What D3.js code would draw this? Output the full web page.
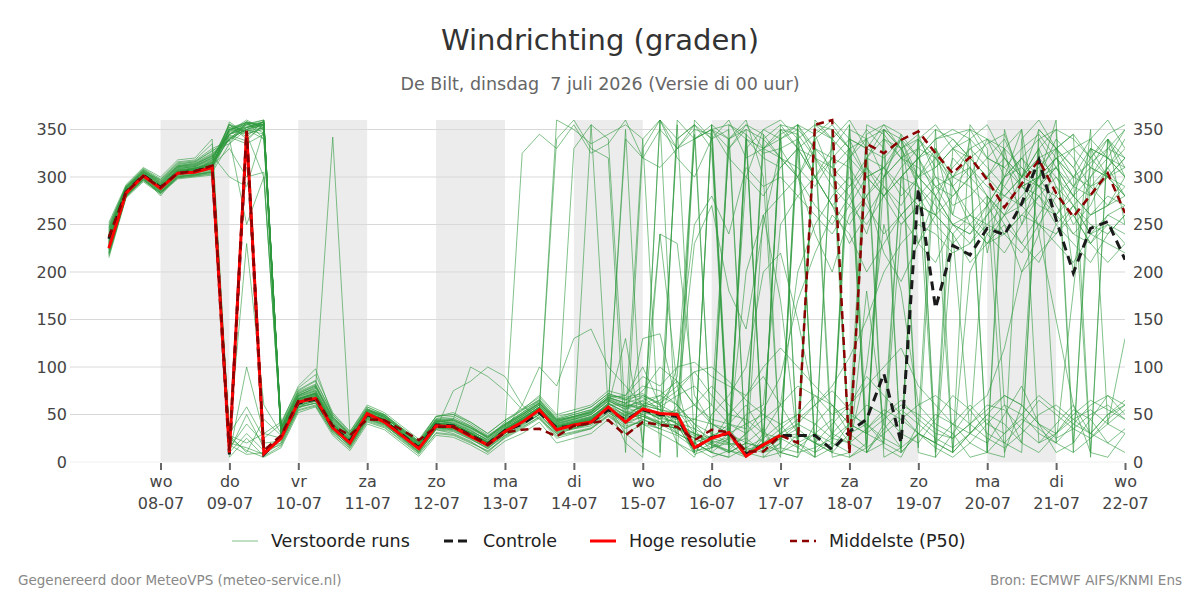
<!DOCTYPE html>
<html>
<head>
<meta charset="utf-8">
<script src="https://cdn.jsdelivr.net/npm/d3@7"></script>
<style>
  body { margin: 0; background: #fff; }
  svg { display: block; font-family: "DejaVu Sans", sans-serif; }
</style>
</head>
<body>
<div id="chart"></div>
<script>
// Tick labels (days) and weekday abbreviations
const tickDates = ['08-07', '09-07', '10-07', '11-07', '12-07', '13-07', '14-07', '15-07',
  '16-07', '17-07', '18-07', '19-07', '20-07', '21-07', '22-07'];
const tickWeekdays = ['wo', 'do', 'vr', 'za', 'zo', 'ma', 'di', 'wo', 'do', 'vr', 'za', 'zo', 'ma', 'di', 'wo'];
const yTicks = [0, 50, 100, 150, 200, 250, 300, 350];

// Control run (6-hourly from 07-07 06 UTC)
const controle = [
  235, 284, 302, 289, 304, 306, 311, 8, 345, 8,
  26, 62, 66, 36, 22, 50, 43, 29, 15, 39,
  38, 28, 19, 33, 40, 52, 36, 38, 42, 55,
  44, 55, 50, 48, 14, 26, 30, 8, 18, 28,
  28, 28, 13, 32, 45, 93, 20, 288, 162, 228,
  218, 246, 239, 272, 318, 255, 199, 246, 253, 213
];

// High resolution run (shorter range)
const hogeResolutie = [
  225, 283, 301, 288, 304, 305, 310, 10, 348, 9,
  25, 63, 67, 36, 20, 51, 42, 28, 14, 38,
  37, 27, 18, 32, 42, 55, 34, 39, 42, 58,
  42, 56, 51, 50, 15, 25, 31, 6, 18, 28
];

// Ensemble median
const middelste = [
  237, 284, 301, 289, 304, 306, 312, 12, 349, 12,
  28, 64, 68, 38, 28, 45, 44, 34, 23, 37,
  37, 28, 18, 31, 34, 35, 27, 38, 41, 44,
  28, 42, 39, 37, 23, 34, 31, 11, 11, 28,
  20, 355, 360, 9, 335, 325, 339, 348, 325, 304,
  321, 297, 268, 293, 318, 283, 258, 281, 304, 262
];

// Perturbed members
const verstoordeRuns = [
  [228,285,303,290,306,308,315,345,352,358, 30,66,72,40,22,48,44,30,16,40, 38,30,20,34,45,58,36,40,44,62, 48,60,55,52,20,28,35,12,20,30, 25,350,340,20,320,310,330,345,300,290, 310,280,260,300,330,290,250,270,310,280],
  [240,288,305,292,310,312,320,350,356,360, 35,70,78,45,28,55,48,32,18,42, 42,34,22,36,48,60,40,45,50,65, 55,70,60,90,340,350,330,355,345,320, 300,340,355,330,10,40,300,320,280,250, 240,270,300,320,290,260,280,300,320,300],
  [220,280,298,285,300,303,305,20,15,8, 20,58,62,32,18,46,40,24,10,35, 33,24,15,28,38,50,30,35,38,52, 40,48,42,45,10,20,26,8,15,25, 30,20,15,40,60,50,30,20,45,70, 55,30,20,40,65,50,35,25,45,60],
  [235,284,300,280,302,306,318,355,340,355, 28,62,66,38,22,50,42,30,15,38, 36,28,18,30,40,52,38,42,48,60, 60,58,65,80,95,70,50,45,30,60, 200,250,280,300,270,240,260,230,210,250, 260,240,220,250,280,300,270,240,260,250],
  [250,290,308,296,312,315,325,340,350,345, 38,75,85,50,30,58,50,36,22,48, 50,40,28,40,52,65,45,50,55,70, 65,80,75,60,40,30,20,340,330,350, 345,320,310,330,340,300,320,340,310,330, 320,300,330,310,290,320,300,330,320,310],
  [215,278,295,282,298,300,302,10,30,12, 18,55,60,30,14,42,36,22,8,30, 28,20,12,25,35,46,25,30,35,48, 35,45,38,40,8,15,20,5,30,25, 15,30,45,20,10,35,55,40,25,15, 30,50,40,20,10,30,55,45,20,35],
  [232,286,304,288,305,310,312,350,358,340, 32,68,74,42,26,52,46,34,20,44, 40,32,24,38,50,62,42,48,52,68, 62,75,100,85,60,45,40,30,55,90, 170,220,260,240,200,230,260,280,250,230, 250,270,240,220,250,280,260,230,250,240],
  [245,287,302,290,308,309,316,30,58,25, 40,80,98,48,28,56,46,30,18,45, 45,38,25,42,55,70,50,55,60,75, 70,90,80,100,105,90,80,70,100,120, 100,80,60,40,30,20,10,30,50,40, 20,40,60,50,30,20,40,60,70,50],
  [226,282,300,286,303,305,308,358,345,352, 26,60,64,35,20,50,42,28,14,36, 35,26,16,30,42,54,32,38,355,55, 42,55,50,45,10,355,340,350,10,20, 330,345,300,320,350,330,10,340,320,300, 330,310,290,320,300,340,320,290,310,340],
  [238,289,306,294,311,313,322,345,355,358, 36,72,80,46,30,54,50,34,20,42, 44,36,26,40,52,64,44,48,54,70, 68,72,60,50,340,350,355,345,325,330, 340,355,350,330,300,310,340,320,290,300, 310,290,280,300,320,330,310,280,300,290],
  [222,281,297,284,301,302,306,15,40,20, 22,56,70,34,16,44,38,26,12,36, 34,25,14,30,40,50,32,36,40,56, 45,50,40,35,25,15,30,40,50,30, 45,60,75,55,35,50,65,45,30,25, 40,55,70,60,40,30,50,65,55,45],
  [230,285,302,291,307,309,314,352,348,356, 30,64,70,38,20,50,44,30,16,40, 38,30,20,34,46,58,40,44,48,60, 340,320,350,330,355,340,20,15,10,25, 35,20,10,30,40,25,15,30,20,10, 200,240,260,230,210,250,270,240,230,220],
  [242,288,305,297,315,317,330,338,352,355, 34,70,76,44,26,54,48,32,18,42, 45,100,90,75,55,65,45,50,55,66, 58,65,70,60,35,10,25,200,260,280, 300,270,250,280,310,290,260,280,300,270, 280,300,320,290,270,260,290,310,300,280],
  [218,279,296,283,299,301,304,8,100,30, 25,60,68,36,18,46,40,26,10,34, 30,22,10,26,36,48,28,32,36,50, 38,42,35,28,15,5,12,30,45,60, 80,70,50,60,90,70,50,30,20,40, 60,40,30,50,70,55,40,30,50,65],
  [236,287,303,289,309,311,319,348,360,350, 33,66,73,41,24,52,45,31,17,41, 40,31,21,35,47,58,39,43,47,62, 52,58,48,55,30,22,18,25,10,15, 10,15,25,40,355,345,320,330,350,340, 320,335,345,300,290,310,330,340,320,300],
  [224,283,301,287,304,306,311,342,335,345, 28,63,68,37,21,49,43,29,15,39, 37,29,19,33,44,56,37,41,46,59, 50,55,45,100,250,280,240,310,290,300, 280,260,240,270,300,280,250,270,290,260, 250,230,260,280,300,270,240,260,280,270],
  [248,291,309,298,316,318,335,25,12,5, 15,52,58,28,12,40,34,20,6,28, 26,18,8,22,30,42,20,25,30,45, 30,40,35,50,60,80,60,40,20,10, 20,30,10,5,15,30,45,60,70,55, 40,25,15,30,50,60,45,30,20,10],
  [233,286,303,290,306,309,316,355,342,360, 31,67,72,40,23,51,45,31,17,41, 39,31,21,35,46,57,360,350,335,345, 355,340,360,330,350,345,10,20,340,355, 350,10,20,340,330,355,345,320,340,350, 340,320,310,330,345,320,300,315,330,320],
  [229,284,302,288,305,307,313,340,350,340, 29,65,70,39,22,50,44,30,16,40, 37,29,19,33,44,56,37,41,45,58, 49,60,70,85,60,40,30,20,15,30, 40,60,80,110,150,200,230,250,240,220, 230,250,240,260,250,230,210,240,250,230],
  [221,280,298,284,300,302,305,12,50,15, 20,57,62,33,17,45,39,25,11,35, 75,85,100,90,60,45,30,35,40,52, 42,40,30,20,10,350,340,355,330,320, 300,330,320,310,280,300,320,310,290,280, 300,320,310,290,300,320,330,310,300,320],
  [244,289,307,295,313,316,328,335,358,352, 37,74,82,48,29,56,49,35,21,46, 48,38,27,40,50,62,43,47,52,67, 60,55,45,30,20,10,5,15,25,340, 350,330,310,290,320,340,330,300,280,310, 330,340,320,300,310,330,345,320,300,310],
  [231,285,302,289,306,308,314,350,352,358, 30,65,71,39,22,50,44,30,16,40, 38,30,20,34,325,345,330,355,325,335, 360,320,310,330,340,350,320,300,280,310, 330,300,270,290,310,280,300,320,330,300, 290,270,300,310,290,280,300,290,270,300],
  [226,282,300,287,303,305,309,18,8,10, 24,59,64,35,19,47,41,27,13,37, 35,27,17,31,42,54,34,39,42,57, 44,130,135,60,40,20,50,70,90,60, 30,20,40,60,80,100,120,80,60,40, 30,50,70,60,40,25,35,50,60,45],
  [237,287,304,292,308,311,320,345,356,355, 34,69,75,43,25,53,47,33,19,43, 41,33,23,37,48,60,41,45,50,64, 56,62,58,70,80,60,40,35,330,340, 20,10,30,50,40,20,250,270,260,240, 260,280,250,230,260,290,270,250,240,260],
  [227,283,301,289,305,307,312,344,338,356, 27,61,66,36,20,48,42,28,14,38, 36,28,18,32,43,55,36,40,44,58, 46,52,48,40,45,60,330,350,340,320, 310,290,320,340,300,280,310,330,320,290, 250,230,240,260,280,250,230,210,240,260],
  [252,292,310,300,318,320,340,28,20,30, 42,78,92,52,32,60,52,38,24,48, 50,42,30,44,56,68,48,52,58,72, 66,70,62,75,95,100,85,65,50,40, 50,70,60,40,30,45,60,50,35,25, 40,60,55,35,20,30,45,55,40,30],
  [234,286,303,291,307,310,317,356,346,350, 31,66,72,40,23,51,45,31,17,41, 39,31,21,35,46,57,38,42,46,61, 53,48,40,35,30,25,40,60,30,10, 5,360,340,320,300,310,280,300,320,340, 320,300,280,270,300,320,290,280,310,330],
  [239,288,305,293,310,312,321,347,353,357, 35,71,77,342,30,53,47,33,19,43, 43,35,25,38,49,61,42,46,51,66, 58,50,42,38,25,18,12,8,20,35, 50,40,25,20,35,55,45,30,15,5, 20,10,30,45,35,20,10,25,40,55],
  [241,289,306,294,311,314,324,339,357,346, 36,70,79,45,27,54,48,34,20,44, 44,36,26,39,51,63,44,48,53,68, 62,68,55,40,30,20,10,340,320,310, 330,320,290,270,250,280,300,290,270,250, 240,260,280,300,320,300,280,260,270,290],
  [219,279,297,283,299,301,303,5,25,6, 17,54,59,31,15,43,37,23,9,31, 29,21,11,27,37,47,27,31,35,49, 36,44,40,38,12,15,25,50,60,250, 280,300,270,250,280,310,290,270,260,280, 300,280,260,270,290,310,280,260,270,280],
  [230,284,300,287,304,306,312,330,300,305, 30,64,70,38,21,49,43,29,15,39, 37,29,19,33,44,56,37,41,45,58, 350,10,360,5,345,20,355,340,15,350, 10,340,20,355,30,300,345,15,330,260, 340,220,300,350,240,330,200,310,340,250],
  [225,281,299,285,302,304,307,30,230,60, 30,66,72,40,22,50,44,30,16,40, 40,30,20,34,45,57,38,42,46,60, 130,20,240,80,10,355,30,5,260,170, 20,5,350,10,180,40,15,350,5,240, 30,280,10,60,330,20,180,350,40,130],
  [234,286,302,289,306,308,313,340,250,300, 33,67,73,41,24,52,45,31,17,41, 38,30,20,34,45,57,38,330,355,340, 45,340,10,355,20,10,340,360,300,15, 340,300,320,5,20,350,330,290,10,300, 320,10,350,290,300,360,20,300,330,350],
  [223,282,300,286,303,304,309,350,355,360, 28,63,67,36,20,48,42,28,14,38, 36,28,18,32,43,55,36,40,44,58, 20,5,360,340,355,15,340,10,20,350, 330,20,10,350,340,15,5,40,350,10, 355,330,60,20,340,350,10,330,320,350],
  [246,290,307,295,312,314,322,345,350,358, 36,72,80,46,28,55,48,34,20,44, 44,36,26,39,50,62,43,47,52,68, 70,100,60,20,5,50,70,100,200,220, 150,60,30,20,100,250,180,60,40,30, 55,70,120,200,240,150,60,30,50,60],
  [217,280,297,283,300,302,305,335,350,356, 26,60,64,35,19,47,41,27,13,36, 34,26,16,30,41,53,34,38,42,56, 48,54,46,42,35,25,20,345,5,10, 30,355,340,360,330,5,15,340,355,330, 310,10,5,340,360,330,300,5,340,300],
  [231,285,301,288,305,307,312,355,348,352, 31,66,72,40,23,51,45,31,17,41, 39,31,21,35,46,57,340,360,330,320, 10,330,360,320,300,340,360,320,330,345, 355,330,5,10,320,350,340,290,260,320, 300,340,330,250,300,310,280,330,300,320],
  [243,289,306,293,311,313,323,300,290,350, 40,76,86,50,32,58,50,36,22,48, 52,42,30,44,54,66,46,52,58,72, 66,60,50,40,30,18,10,20,35,5, 355,320,300,280,240,300,340,230,280,10, 30,20,50,80,40,10,20,45,70,60],
  [228,283,301,287,304,306,311,348,358,354, 29,64,69,38,21,49,43,29,15,39, 37,29,19,33,44,56,37,41,45,58, 40,60,55,30,360,340,350,5,25,40, 15,5,350,330,10,20,300,320,340,345, 350,320,340,300,330,350,340,320,345,355],
  [236,286,303,291,307,309,315,345,352,358, 32,67,72,40,23,51,45,31,17,41, 39,31,21,35,46,58,39,43,47,62, 52,45,35,60,230,270,180,140,250,330, 300,240,200,260,280,220,190,230,260,240, 210,230,250,200,220,240,260,230,210,230],
  [227,283,300,286,303,305,310,28,10,45, 28,62,66,36,20,48,42,28,14,38, 36,28,18,32,43,55,36,40,44,58, 30,15,5,360,340,355,15,30,345,10, 5,40,60,30,15,350,330,10,5,30, 5,10,330,350,20,40,60,10,5,30],
  [239,288,305,292,309,311,318,340,355,350, 34,69,75,43,25,53,47,33,19,43, 41,33,23,37,48,60,41,45,50,64, 58,64,55,50,45,40,35,300,350,360, 340,300,330,355,10,340,320,300,330,290, 260,250,270,290,280,260,240,230,260,270],
  [232,286,303,290,306,308,314,350,345,300, 31,66,71,40,22,50,44,30,16,40, 38,30,20,34,60,100,80,130,140,100, 80,60,40,30,20,10,5,330,350,340, 355,5,15,320,340,350,10,30,20,330, 340,355,320,300,350,330,310,340,360,330],
  [224,282,300,286,303,305,310,352,357,355, 28,63,67,36,20,48,42,28,14,38, 36,28,18,32,43,55,36,40,44,58, 45,50,240,230,70,40,30,10,5,20, 355,345,360,340,330,320,340,300,310,330, 350,340,300,320,340,310,290,320,340,310],
  [247,290,308,297,314,316,327,342,350,355, 37,73,81,47,29,56,49,35,21,45, 46,37,27,39,50,62,44,48,53,68, 62,55,48,340,355,330,10,20,15,25, 40,30,20,10,345,355,330,340,20,10, 30,45,20,10,350,330,345,10,340,320],
  [220,280,298,284,301,303,306,345,358,352, 24,58,62,33,17,45,39,25,11,34, 32,24,14,28,39,50,31,36,40,54, 42,48,40,35,28,20,12,5,20,355, 330,300,270,230,260,290,270,300,280,250, 230,260,290,270,250,240,270,290,300,280]
];

const width = 1200;
const height = 600;
const margin = { top: 120, right: 75, bottom: 138, left: 70 };
const plotW = width - margin.left - margin.right;
const plotH = height - margin.top - margin.bottom;

const HOUR = 3600 * 1000;
const runStart = Date.UTC(2026, 6, 7, 6);
const timeAt = i => new Date(runStart + i * 6 * HOUR);

const x = d3.scaleUtc()
  .domain([new Date(Date.UTC(2026, 6, 6, 16, 28)), new Date(Date.UTC(2026, 6, 22, 0))])
  .range([margin.left, margin.left + plotW]);

const y = d3.scaleLinear()
  .domain([0, 360])
  .range([margin.top + plotH, margin.top]);

const tickTimes = tickDates.map(s => {
  const [dd, mm] = s.split('-').map(Number);
  return new Date(Date.UTC(2026, mm - 1, dd));
});

const svg = d3.select('#chart')
  .append('svg')
  .attr('width', width)
  .attr('height', height);

svg.append('defs').append('clipPath')
  .attr('id', 'plot-clip')
  .append('rect')
  .attr('x', margin.left)
  .attr('y', margin.top - 2)
  .attr('width', plotW)
  .attr('height', plotH + 4);

// Shaded alternate days
svg.append('g')
  .selectAll('rect')
  .data(tickTimes.filter((d, i) => i % 2 === 0 && i < tickTimes.length - 1))
  .enter()
  .append('rect')
  .attr('x', d => x(d))
  .attr('y', margin.top)
  .attr('width', d => x(new Date(+d + 24 * HOUR)) - x(d))
  .attr('height', plotH)
  .attr('fill', '#ececec');

// Grid lines
svg.append('g')
  .selectAll('line')
  .data(yTicks)
  .enter()
  .append('line')
  .attr('x1', margin.left)
  .attr('x2', margin.left + plotW)
  .attr('y1', d => y(d))
  .attr('y2', d => y(d))
  .attr('stroke', d => d === 0 ? '#f0f0f0' : '#d9d9d9')
  .attr('stroke-width', 1);

// Left and right axes (labels only)
const leftAxis = svg.append('g')
  .attr('transform', `translate(${margin.left},0)`)
  .call(d3.axisLeft(y).tickValues(yTicks).tickSize(0).tickPadding(3));
const rightAxis = svg.append('g')
  .attr('transform', `translate(${margin.left + plotW},0)`)
  .call(d3.axisRight(y).tickValues(yTicks).tickSize(0).tickPadding(8));
[leftAxis, rightAxis].forEach(a => {
  a.select('.domain').remove();
  a.selectAll('text')
    .attr('font-size', 16)
    .attr('font-family', '"DejaVu Sans", sans-serif')
    .attr('fill', '#444');
});

// Bottom axis with two-line labels
const xAxis = svg.append('g')
  .attr('transform', `translate(0,${margin.top + plotH})`)
  .call(d3.axisBottom(x).tickValues(tickTimes).tickSize(8).tickFormat(''));
xAxis.select('.domain').remove();
xAxis.selectAll('.tick line')
  .attr('stroke', '#666')
  .attr('stroke-width', 2)
  .attr('y1', 1);
xAxis.selectAll('.tick').each(function(d, i) {
  const t = d3.select(this).append('text')
    .attr('fill', '#444')
    .attr('font-size', 16)
    .attr('font-family', '"DejaVu Sans", sans-serif')
    .attr('text-anchor', 'middle');
  t.append('tspan').attr('x', 0).attr('y', 25).text(tickWeekdays[i]);
  t.append('tspan').attr('x', 0).attr('y', 47).text(tickDates[i]);
});

const line = d3.line()
  .x((d, i) => x(timeAt(i)))
  .y(d => y(d));

const plot = svg.append('g').attr('clip-path', 'url(#plot-clip)');

// Perturbed runs
plot.append('g')
  .selectAll('path')
  .data(verstoordeRuns)
  .enter()
  .append('path')
  .attr('d', line)
  .attr('fill', 'none')
  .attr('stroke', '#2e9a3e')
  .attr('stroke-opacity', 0.6)
  .attr('stroke-width', 1);

plot.append('path')
  .datum(controle)
  .attr('d', line)
  .attr('fill', 'none')
  .attr('stroke', '#1a1a1a')
  .attr('stroke-width', 3)
  .attr('stroke-dasharray', '9,6');

plot.append('path')
  .datum(hogeResolutie)
  .attr('d', line)
  .attr('fill', 'none')
  .attr('stroke', '#ff0000')
  .attr('stroke-width', 3);

plot.append('path')
  .datum(middelste)
  .attr('d', line)
  .attr('fill', 'none')
  .attr('stroke', '#8b0000')
  .attr('stroke-width', 2.5)
  .attr('stroke-dasharray', '8,5');

// Titles
svg.append('text')
  .attr('x', width / 2)
  .attr('y', 50)
  .attr('text-anchor', 'middle')
  .attr('font-size', 29)
  .attr('fill', '#333')
  .text('Windrichting (graden)');

svg.append('text')
  .attr('x', width / 2)
  .attr('y', 90)
  .attr('text-anchor', 'middle')
  .attr('font-size', 17.5)
  .attr('fill', '#666')
  .style('white-space', 'pre')
  .text('De Bilt, dinsdag  7 juli 2026 (Versie di 00 uur)');

// Legend
const legendItems = [
  { label: 'Verstoorde runs', x: 232, stroke: '#2e9a3e', width: 1, dash: null, opacity: 0.6 },
  { label: 'Controle', x: 444, stroke: '#1a1a1a', width: 3, dash: '9,5', opacity: 1 },
  { label: 'Hoge resolutie', x: 590, stroke: '#ff0000', width: 3, dash: null, opacity: 1 },
  { label: 'Middelste (P50)', x: 790, stroke: '#8b0000', width: 2.5, dash: '7,5', opacity: 1 }
];
const legend = svg.append('g').attr('transform', 'translate(0,541)');
legendItems.forEach(item => {
  legend.append('line')
    .attr('x1', item.x)
    .attr('x2', item.x + 26)
    .attr('stroke', item.stroke)
    .attr('stroke-width', item.width)
    .attr('stroke-opacity', item.opacity)
    .attr('stroke-dasharray', item.dash);
  legend.append('text')
    .attr('x', item.x + 39)
    .attr('y', 6)
    .attr('font-size', 17.5)
    .attr('fill', '#222')
    .text(item.label);
});

// Footer
svg.append('text')
  .attr('x', 18)
  .attr('y', 585)
  .attr('font-size', 13.5)
  .attr('fill', '#888')
  .text('Gegenereerd door MeteoVPS (meteo-service.nl)');

svg.append('text')
  .attr('x', 1182)
  .attr('y', 585)
  .attr('text-anchor', 'end')
  .attr('font-size', 13.5)
  .attr('fill', '#888')
  .text('Bron: ECMWF AIFS/KNMI Ens');
</script>
</body>
</html>
